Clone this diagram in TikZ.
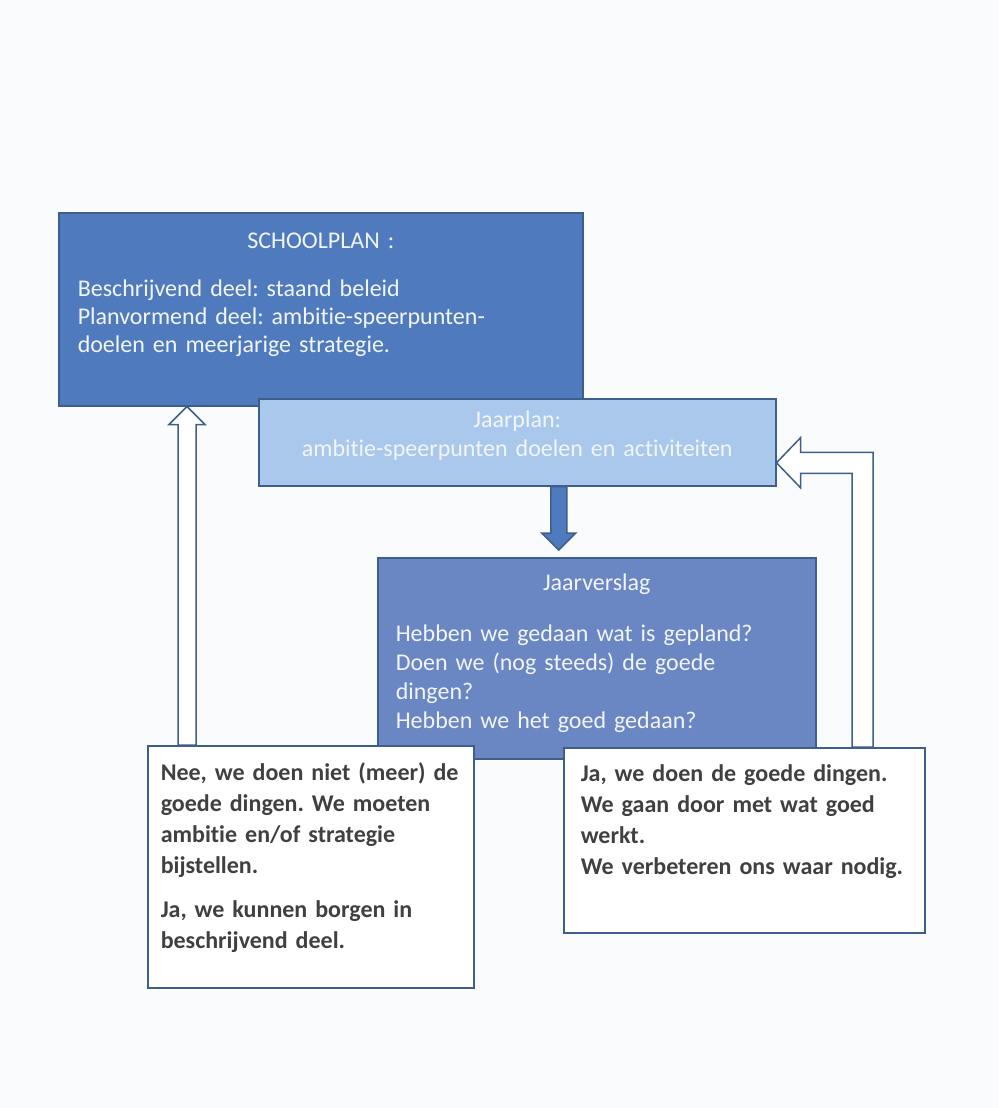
\documentclass[tikz,border=0pt]{standalone}
\usepackage{fontspec}
\setmainfont{Carlito}[Ligatures=NoCommon]
\frenchspacing
\usetikzlibrary{calc}
\definecolor{PlanBlue}{HTML}{4F7BBE}
\definecolor{YearBlue}{HTML}{A9C8EC}
\definecolor{ReportBlue}{HTML}{6A86C3}
\definecolor{Edge}{HTML}{3E5E8C}
\definecolor{Paper}{HTML}{FAFBFD}
\definecolor{Ink}{HTML}{404040}
\definecolor{Pale}{HTML}{F2F5FA}

\begin{document}
\begin{tikzpicture}[x=1pt,y=-1pt,
    box/.style={draw=Edge,line width=1.5pt,anchor=north west,inner ysep=0pt,
      align=left,text=Pale,font=\fontsize{24}{28}\selectfont},
    answer/.style={box,fill=white,text=Ink,font=\fontsize{24}{31}\selectfont\bfseries},
    openarr/.style={draw=Edge,line width=1.5pt,fill=white},
    downarr/.style={draw=Edge,line width=1.5pt,fill=PlanBlue}
  ]
  \fill[Paper] (0,0) rectangle (999,1108);
  \useasboundingbox (0,0) rectangle (999,1108);

  \node[box,fill=PlanBlue,inner xsep=19pt,text width=486pt] (plan) at (58,212)
    {\centerline{\rule{0pt}{36pt}SCHOOLPLAN :}\vskip20pt
     Beschrijvend deel: staand beleid\\
     Planvormend deel: ambitie-speerpunten-\\
     doelen en meerjarige strategie.\rule[-53pt]{0pt}{53pt}};
  \node[box,fill=YearBlue,align=center,inner xsep=15pt,text width=487pt,
    font=\fontsize{24}{29}\selectfont] (jplan) at (258,398)
    {\rule{0pt}{29pt}Jaarplan:\\
     ambitie-speerpunten doelen en activiteiten\rule[-29pt]{0pt}{29pt}};

  % pijl jaarplan -> jaarverslag
  \node[box,fill=ReportBlue,inner xsep=18pt,text width=402pt,
    font=\fontsize{24}{29}\selectfont] (jvers) at (377,557)
    {\centerline{\rule{0pt}{33pt}Jaarverslag}\vskip22pt
     Hebben we gedaan wat is gepland?\\
     Doen we (nog steeds) de goede\\
     dingen?\\
     Hebben we het goed gedaan?\rule[-30pt]{0pt}{30pt}};
  \coordinate (dn) at ($(jplan.south)+(41.5,0)$);
  \coordinate (dt) at ($(dn |- jvers.north)+(0,-7)$);
  \draw[downarr] ($(dn)+(-8,0)$) -- ($(dt)+(-8,-17)$) -- ($(dt)+(-17,-17)$) -- (dt)
    -- ($(dt)+(17,-17)$) -- ($(dt)+(8,-17)$) -- ($(dn)+(8,0)$) -- cycle;

  \node[answer,inner xsep=13pt,text width=300pt] (nee) at (147,745)
    {\rule{0pt}{35pt}Nee, we doen niet (meer) de\\
     goede dingen. We moeten\\
     ambitie en/of strategie\\
     bijstellen.\\[13pt]
     Ja, we kunnen borgen in\\
     beschrijvend deel.\rule[-39pt]{0pt}{39pt}};
  \node[answer,inner xsep=17pt,text width=327pt] (ja) at (563,747)
    {\rule{0pt}{34pt}Ja, we doen de goede dingen.\\
     We gaan door met wat goed\\
     werkt.\\
     We verbeteren ons waar nodig.\rule[-58pt]{0pt}{58pt}};

  % terug naar schoolplan
  \coordinate (la) at ($(nee.north west)+(40,0)$);
  \coordinate (lt) at (la |- plan.south);
  \draw[openarr] ($(la)+(-9,0)$) -- ($(lt)+(-9,18)$) -- ($(lt)+(-18,18)$) -- (lt)
    -- ($(lt)+(18,18)$) -- ($(lt)+(9,18)$) -- ($(la)+(9,0)$) -- cycle;

  % terug naar jaarplan
  \coordinate (rb) at ($(ja.north west)+(299.5,0)$);
  \coordinate (rt) at ($(jplan.east)+(0,20.5)$);
  \draw[openarr] ($(rb)+(-10.5,0)$) -- ($(rb |- rt)+(-10.5,10.5)$) -- ($(rt)+(24,10.5)$)
    -- ($(rt)+(24,25)$) -- (rt) -- ($(rt)+(24,-25)$) -- ($(rt)+(24,-10.5)$)
    -- ($(rb |- rt)+(10.5,-10.5)$) -- ($(rb)+(10.5,0)$) -- cycle;
\end{tikzpicture}
\end{document}
